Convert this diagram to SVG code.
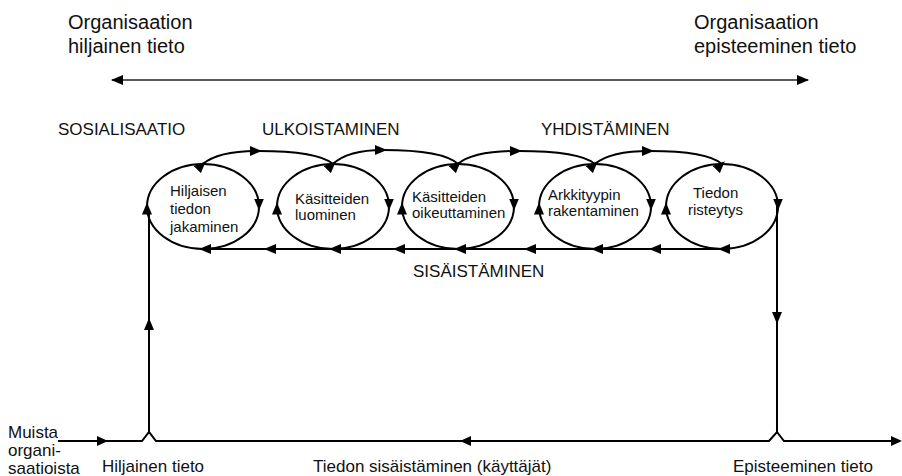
<svg xmlns="http://www.w3.org/2000/svg" width="902" height="476" viewBox="0 0 902 476">
  <style>
    text { font-family: "Liberation Sans", Arial, sans-serif; fill: #111; }
    .title { font-size: 20px; }
    .phase { font-size: 17px; }
    .node-text { font-size: 15px; }
    .foot { font-size: 17px; }
    .line { fill: none; stroke: #000; stroke-width: 2; }
    .span { fill: none; stroke: #222; stroke-width: 1.6; }
  </style>
  <defs>
    <marker id="arrow" markerUnits="userSpaceOnUse" markerWidth="12" markerHeight="10" viewBox="0 0 12 10" refX="11" refY="5" orient="auto">
      <path d="M0,0 L12,5 L0,10 Z" fill="#000"/>
    </marker>
    <marker id="arrow-mid" markerUnits="userSpaceOnUse" markerWidth="12" markerHeight="10" viewBox="0 0 12 10" refX="8" refY="5" orient="auto">
      <path d="M0,0 L12,5 L0,10 Z" fill="#000"/>
    </marker>
    <marker id="arrow-start" markerUnits="userSpaceOnUse" markerWidth="12" markerHeight="10" viewBox="0 0 12 10" refX="1" refY="5" orient="auto">
      <path d="M12,0 L0,5 L12,10 Z" fill="#000"/>
    </marker>
  </defs>

  <!-- headings -->
  <text class="title" x="68" y="29">Organisaation</text>
  <text class="title" x="68" y="53">hiljainen tieto</text>
  <text class="title" x="694" y="29">Organisaation</text>
  <text class="title" x="694" y="53">episteeminen tieto</text>

  <!-- phase labels -->
  <text class="phase" x="58" y="135">SOSIALISAATIO</text>
  <text class="phase" x="262" y="135">ULKOISTAMINEN</text>
  <text class="phase" x="541" y="135">YHDISTÄMINEN</text>
  <text class="phase" x="413" y="277">SISÄISTÄMINEN</text>

  <!-- bottom labels -->
  <text class="foot" x="8" y="438">Muista</text>
  <text class="foot" x="8" y="456">organi-</text>
  <text class="foot" x="8" y="474">saatioista</text>
  <text class="foot" x="102" y="472">Hiljainen tieto</text>
  <text class="foot" x="313" y="472">Tiedon sisäistäminen (käyttäjät)</text>
  <text class="foot" x="733" y="472">Episteeminen tieto</text>

  <!-- connectors -->
  <g id="connectors">
    <!-- tacit to explicit span -->
    <path class="span" d="M112,80 H808" marker-start="url(#arrow-start)" marker-end="url(#arrow)"/>
    <!-- externalisation / combination arcs between ellipse tops -->
    <path class="line" d="M203,164 Q218,151 258,151 Q318,151 333,164" marker-mid="url(#arrow-mid)"/>
    <path class="line" d="M333,164 Q348,150 383,150 Q443,150 458,164" marker-mid="url(#arrow-mid)"/>
    <path class="line" d="M458,164 Q473,151 518,151 Q580,151 595,164" marker-mid="url(#arrow-mid)"/>
    <path class="line" d="M595,164 Q610,151 650,151 Q707,151 722,164" marker-mid="url(#arrow-mid)"/>
    <!-- internalisation line along ellipse bottoms -->
    <path class="line" d="M722,249 L653,249 L528,249 L397,249 L268,249 L203,249" marker-mid="url(#arrow-mid)"/>
    <!-- left vertical: tacit knowledge up into socialisation -->
    <path class="line" d="M149,432 L149,322 L149,210" marker-mid="url(#arrow-mid)"/>
    <!-- right vertical: cross-levelling down to explicit knowledge -->
    <path class="line" d="M777,206 L777,320 L777,432" marker-mid="url(#arrow-mid)"/>
    <!-- bottom flow line with hops over the verticals -->
    <path class="line" d="M58,441 L108,441 L142,441 L149,432 L156,441 L470,441 L769,441 L777,432 L784,441 L900,441"/>
    <path d="M108,441 l-11,-5 v10 Z" fill="#000"/>
    <path d="M460,441 l11,-5 v10 Z" fill="#000"/>
    <path d="M902,441 l-11,-5 v10 Z" fill="#000"/>
  </g>

  <!-- nodes: clockwise ellipses with arrows on both sides -->
  <g id="node-sharing">
    <path class="line" d="M203,164 A56,42.5 0 0 1 259,206.5 A56,42.5 0 0 1 203,249 A56,42.5 0 0 1 147,206.5 A56,42.5 0 0 1 203,164 Z" marker-mid="url(#arrow-mid)"/>
    <text class="node-text" x="170" y="196">Hiljaisen</text>
    <text class="node-text" x="170" y="214">tiedon</text>
    <text class="node-text" x="170" y="232">jakaminen</text>
  </g>
  <g id="node-concepts">
    <path class="line" d="M333,164 A56,42.5 0 0 1 389,206.5 A56,42.5 0 0 1 333,249 A56,42.5 0 0 1 277,206.5 A56,42.5 0 0 1 333,164 Z" marker-mid="url(#arrow-mid)"/>
    <text class="node-text" x="295" y="204">Käsitteiden</text>
    <text class="node-text" x="295" y="220">luominen</text>
  </g>
  <g id="node-justify">
    <path class="line" d="M458,164 A56,42.5 0 0 1 514,206.5 A56,42.5 0 0 1 458,249 A56,42.5 0 0 1 402,206.5 A56,42.5 0 0 1 458,164 Z" marker-mid="url(#arrow-mid)"/>
    <text class="node-text" x="412" y="202">Käsitteiden</text>
    <text class="node-text" x="412" y="218">oikeuttaminen</text>
  </g>
  <g id="node-archetype">
    <path class="line" d="M595,164 A56,42.5 0 0 1 651,206.5 A56,42.5 0 0 1 595,249 A56,42.5 0 0 1 539,206.5 A56,42.5 0 0 1 595,164 Z" marker-mid="url(#arrow-mid)"/>
    <text class="node-text" x="548" y="200">Arkkityypin</text>
    <text class="node-text" x="548" y="216">rakentaminen</text>
  </g>
  <g id="node-crosslevel">
    <path class="line" d="M722,164 A56,42.5 0 0 1 778,206.5 A56,42.5 0 0 1 722,249 A56,42.5 0 0 1 666,206.5 A56,42.5 0 0 1 722,164 Z" marker-mid="url(#arrow-mid)"/>
    <text class="node-text" x="693" y="198">Tiedon</text>
    <text class="node-text" x="688" y="215">risteytys</text>
  </g>
</svg>
